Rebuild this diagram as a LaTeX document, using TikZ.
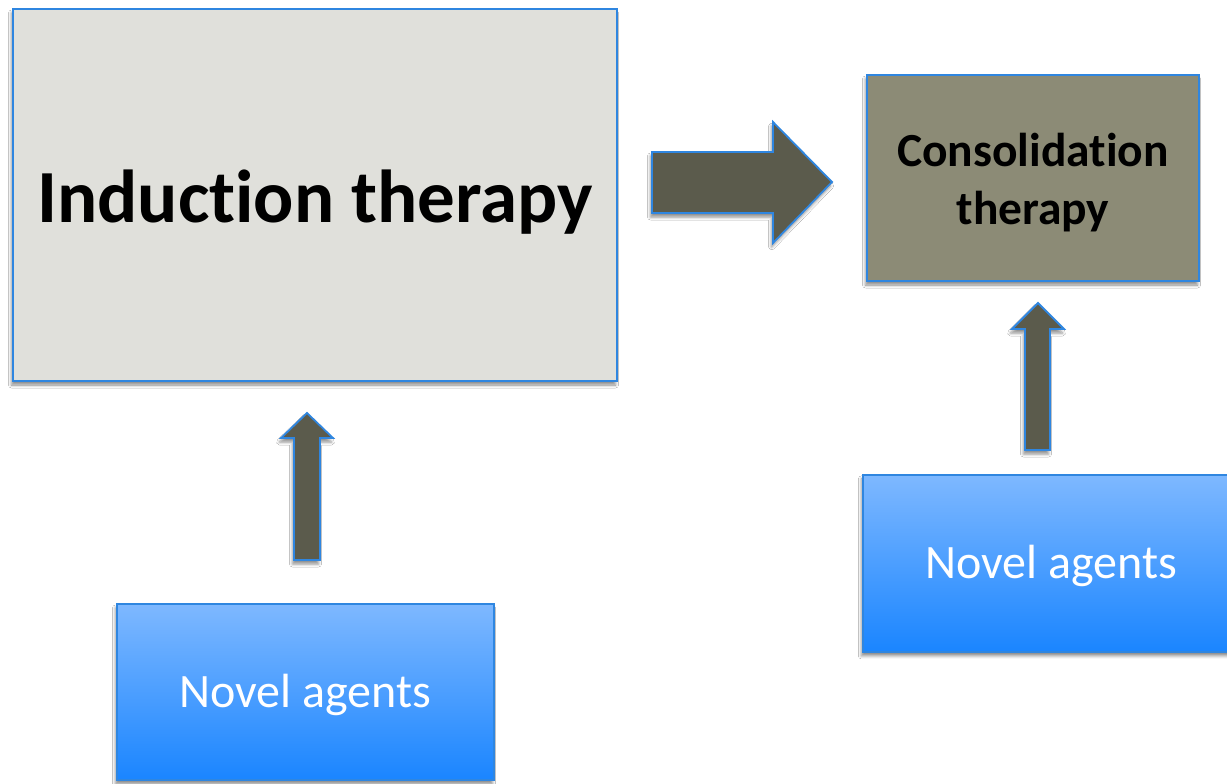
\documentclass[tikz,border=0pt]{standalone}
\usepackage{fontspec}
\setmainfont[Ligatures={NoCommon}]{Carlito}
\usetikzlibrary{shadows.blur}
\definecolor{edgeblue}{HTML}{2F86E0}
\definecolor{indfill}{HTML}{E0E0DB}
\definecolor{consfill}{HTML}{8C8B76}
\definecolor{arrfill}{HTML}{5B5B4C}
\definecolor{bluetop}{HTML}{7EB8FF}
\definecolor{bluebot}{HTML}{1A85FF}
\tikzset{
  shad/.style={blur shadow={shadow xshift=-1.5pt, shadow yshift=-4pt, shadow blur radius=3pt, shadow opacity=45}},
  box/.style={draw=edgeblue, line width=1.8pt, rectangle, inner sep=0pt, align=center, shad},
  agentbox/.style={box, top color=bluetop, bottom color=bluebot},
  agenttext/.style={text=white, font=\fontsize{48}{56}\selectfont},
  blockarrow/.style={draw=edgeblue, line width=1.8pt, fill=arrfill, line join=miter, shad}
}
\begin{document}
\begin{tikzpicture}[x=1pt,y=-1pt]
\useasboundingbox (0,0) rectangle (1227,784);
\fill[white] (0,0) rectangle (1227,784);
\node[box, fill=indfill, minimum width=604pt, minimum height=372pt] (ind) at (315,195) {};
\node[font=\bfseries\fontsize{75}{90}\selectfont] (indt) at (315,202) {Induction therapy};
\node[box, fill=consfill, minimum width=332pt, minimum height=206pt] (cons) at (1033,178) {};
\node[align=center, font=\bfseries\fontsize{47.5}{58}\selectfont] (const) at (1033,183) {Consolidation\\therapy};
\node[agentbox, minimum width=377pt, minimum height=176pt] (nov1) at (305.5,692) {};
\node[agenttext] (nov1t) at (305.5,695) {Novel agents};
\node[agentbox, minimum width=380pt, minimum height=177pt, anchor=north west] (nov2) at (862,474) {};
\node[agenttext] (nov2t) at (1051,566) {Novel agents};
% right block arrow
\draw[blockarrow] (652,152) -- (773,152) -- (773,122) -- (832,182) -- (773,243) -- (773,213) -- (652,213) -- cycle;
% left up arrow
\draw[blockarrow] (294,560) -- (294,438) -- (281,438) -- (307,413) -- (333,438) -- (320,438) -- (320,560) -- cycle;
% right up arrow
\draw[blockarrow] (1025,450) -- (1025,329) -- (1012,329) -- (1038,303) -- (1064,329) -- (1050,329) -- (1050,450) -- cycle;
\end{tikzpicture}
\end{document}
